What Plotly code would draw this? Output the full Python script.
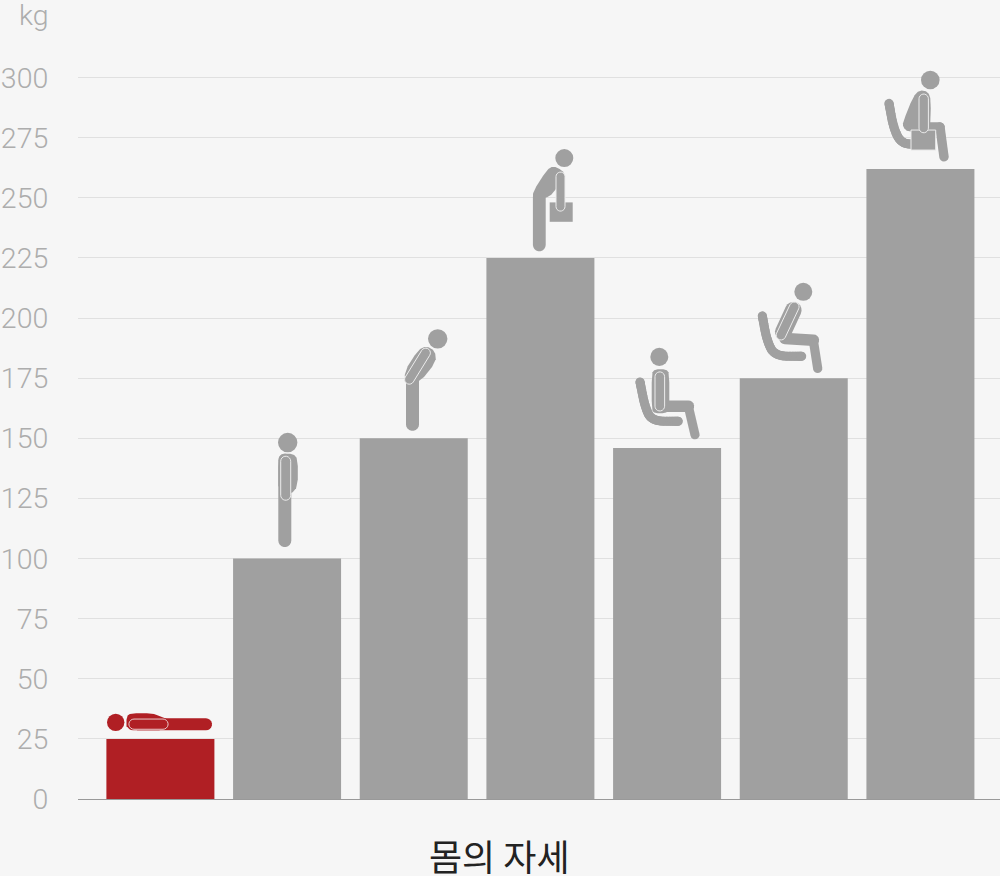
import numpy as np
import plotly.graph_objects as go

# ---------- data ----------
categories = ["누운 자세", "선 자세", "숙인 자세", "물건을 들고 숙인 자세",
              "앉은 자세", "숙여 앉은 자세", "물건을 들고 숙여 앉은 자세"]
values = [25, 100, 150, 225, 146, 175, 262]
y_ticks = [0, 25, 50, 75, 100, 125, 150, 175, 200, 225, 250, 275, 300]
y_unit = "kg"
x_title = "몸의 자세"

RED = "#b01f24"
GRAY = "#a0a0a0"
BG = "#f6f6f6"
W, H = 1000, 876
L, B = 78, 798.6
BAND = 126.67
C0 = 160.4
SCALE = 2.4033


def X(px):
    return (px - C0) / BAND


def Y(py):
    return (B - py) / SCALE


shapes = []


def path_of(pts):
    return "M" + "L".join(f"{X(x):.4f},{Y(y):.3f}" for x, y in pts) + "Z"


def capsule_pts(a, b, r, n=10):
    a, b = np.array(a, float), np.array(b, float)
    ang = np.arctan2(*(b - a)[::-1])
    t1 = np.linspace(ang + np.pi / 2, ang + 3 * np.pi / 2, n)
    t2 = np.linspace(ang - np.pi / 2, ang + np.pi / 2, n)
    p1 = np.c_[a[0] + r * np.cos(t1), a[1] + r * np.sin(t1)]
    p2 = np.c_[b[0] + r * np.cos(t2), b[1] + r * np.sin(t2)]
    return np.r_[p1, p2]


def add(pts, color, line=None):
    shapes.append(dict(type="path", path=path_of(pts), xref="x", yref="y", fillcolor=color,
                       line=dict(width=1 if line else 0, color=line or color)))


def poly(pts, color, rounds=2):
    pts = np.array(pts, float)
    for _ in range(rounds):
        nxt = np.roll(pts, -1, axis=0)
        pts = np.c_[0.75 * pts + 0.25 * nxt, 0.25 * pts + 0.75 * nxt].reshape(-1, 2)
    add(pts, color)


def stroke(line_pts, r, color):
    for a, b in zip(line_pts[:-1], line_pts[1:]):
        add(capsule_pts(a, b, r), color)


def curve(line_pts, r, color, rounds=3):
    """Rounded seat-back stroke: the corners of the guide line are cut before it is drawn."""
    pts = np.array(line_pts, float)
    for _ in range(rounds):
        q = 0.75 * pts[:-1] + 0.25 * pts[1:]
        s = 0.25 * pts[:-1] + 0.75 * pts[1:]
        pts = np.r_[pts[:1], np.c_[q, s].reshape(-1, 2), pts[-1:]]
    stroke([tuple(p) for p in pts], r, color)


def head(cx, cy, r, color):
    shapes.append(dict(type="circle", xref="x", yref="y", x0=X(cx - r), x1=X(cx + r),
                       y0=Y(cy + r), y1=Y(cy - r), fillcolor=color, line=dict(width=0)))


def arm(a, b, r, color=GRAY, line="#ececec"):
    add(capsule_pts(a, b, r), color, line)


def box(x0, y0, x1, y1, color, line=None):
    add([(x0, y0), (x1, y0), (x1, y1), (x0, y1)], color, line)


# Lying figure
head(115.7, 722, 8.7, RED)
stroke([(133, 724), (206, 724)], 6, RED)
poly([(126.5, 730), (126.5, 716), (131, 713), (152, 713), (160, 716), (170, 720), (170, 730)], RED, 1)
arm((134, 723.8), (163, 723.8), 5.1, RED, "#eac9ca")

# Standing figure
head(287.7, 442.3, 9.7, GRAY)
stroke([(284.8, 460), (284.8, 540.3)], 6.5, GRAY)
poly([(278.3, 458), (282, 453.5), (293, 453.5), (297.8, 459), (297.8, 486), (291, 494), (278.3, 494)], GRAY, 1)
arm((285.7, 461), (285.7, 495), 5)

# Bending figure
head(437.7, 338.7, 9.7, GRAY)
stroke([(412.5, 380), (412.5, 424.2)], 6.5, GRAY)
poly([(404.3, 371.5), (418, 350), (426.5, 345.7), (435, 351), (436, 361.7), (420, 381.7), (406, 385)], GRAY, 1)
arm((425.7, 352.7), (409.3, 379.3), 4.7)

# Bending figure lifting
head(564.3, 158, 9, GRAY)
stroke([(539.3, 197), (539.3, 244.8)], 6.4, GRAY)
poly([(533, 191.7), (546.7, 170), (553.3, 166), (561.7, 170), (565, 175), (553.3, 193.3), (545, 198.3), (533, 198.3)], GRAY, 1)
box(549.7, 202.3, 572.7, 221.7, GRAY)
arm((560.5, 176.5), (560.5, 206.5), 4.5)

# Seated figure
head(659.3, 356.7, 9, GRAY)
curve([(640, 381.7), (645, 407), (652, 421), (678.3, 421)], 4.5, GRAY)
stroke([(660, 406), (688.3, 406)], 5.8, GRAY)
stroke([(688.3, 406), (695, 434.5)], 4.6, GRAY)
poly([(651.7, 373), (655, 369), (666, 369), (669.3, 373), (669.3, 410), (665, 413), (655, 413), (651.7, 410)], GRAY, 1)
arm((659.8, 376.5), (659.8, 406), 4.8)

# Leaning seated figure
head(803.3, 291.7, 9, GRAY)
curve([(762.3, 315.7), (767, 341), (775, 356), (801.7, 356)], 4.5, GRAY)
stroke([(785, 338.3), (813.3, 340)], 5.8, GRAY)
stroke([(813.3, 340), (817.7, 368.3)], 4.6, GRAY)
stroke([(793.3, 310), (783.3, 331.7)], 8.3, GRAY)
arm((794.3, 306.7), (781, 335), 4.8)

# Leaning seated figure lifting
head(930.3, 80, 9.3, GRAY)
curve([(889, 103.3), (893.5, 128), (901, 143), (915, 144.5)], 4.5, GRAY)
stroke([(930, 127), (940, 127)], 4.7, GRAY)
stroke([(940, 127), (944, 156.7)], 4.7, GRAY)
poly([(903, 122), (913, 97), (919.5, 90), (928, 91.7), (931, 100), (930, 132), (908, 132), (903, 127)], GRAY, 1)
box(911, 130, 935.7, 150, GRAY, "#ececec")
arm((923.7, 98.7), (923.7, 128), 4.7)

# ---------- figure ----------
bar_colors = [RED] + [GRAY] * (len(values) - 1)

fig = go.Figure(go.Bar(x=categories, y=values, marker=dict(color=bar_colors, line=dict(width=0)),
                       width=108 / BAND, hoverinfo="x+y"))

TICK_FONT = dict(family="Roboto", size=28.5, color="#adadad", weight=300)

fig.update_layout(
    width=W, height=H,
    margin=dict(l=L, r=0, t=0, b=H - B, pad=0),
    paper_bgcolor=BG, plot_bgcolor=BG,
    showlegend=False,
    shapes=shapes,
    font=dict(family="Roboto, 'Noto Sans CJK KR'", color="#adadad"),
    xaxis=dict(type="category", categoryorder="array", categoryarray=categories,
               range=[X(L), X(W)], showticklabels=False, ticks="", showgrid=False,
               showline=True, linecolor="#999999", linewidth=1, zeroline=False),
    yaxis=dict(range=[0, Y(0)], tickmode="array", tickvals=y_ticks, ticktext=[str(v) for v in y_ticks],
               showgrid=True, gridcolor="#e0e0e0", gridwidth=1, zeroline=False, showline=False,
               ticks="outside", ticklen=23, tickcolor="rgba(0,0,0,0)", tickwidth=1,
               tickfont=TICK_FONT),
    annotations=[
        dict(text=y_unit, xref="paper", yref="paper", x=-(L - 51) / (W - L), y=1 - 15 / B,
             xanchor="right", yanchor="middle", showarrow=False, font=TICK_FONT),
        dict(text=x_title, xref="paper", yref="paper", x=(499 - L) / (W - L), y=-(855 - B) / B,
             xanchor="center", yanchor="middle", showarrow=False,
             font=dict(family="Noto Sans CJK KR", size=36, color="#222222")),
    ],
)

fig.write_html("out.html", post_script="document.body.style.margin='0';",
               config=dict(displayModeBar=False))
